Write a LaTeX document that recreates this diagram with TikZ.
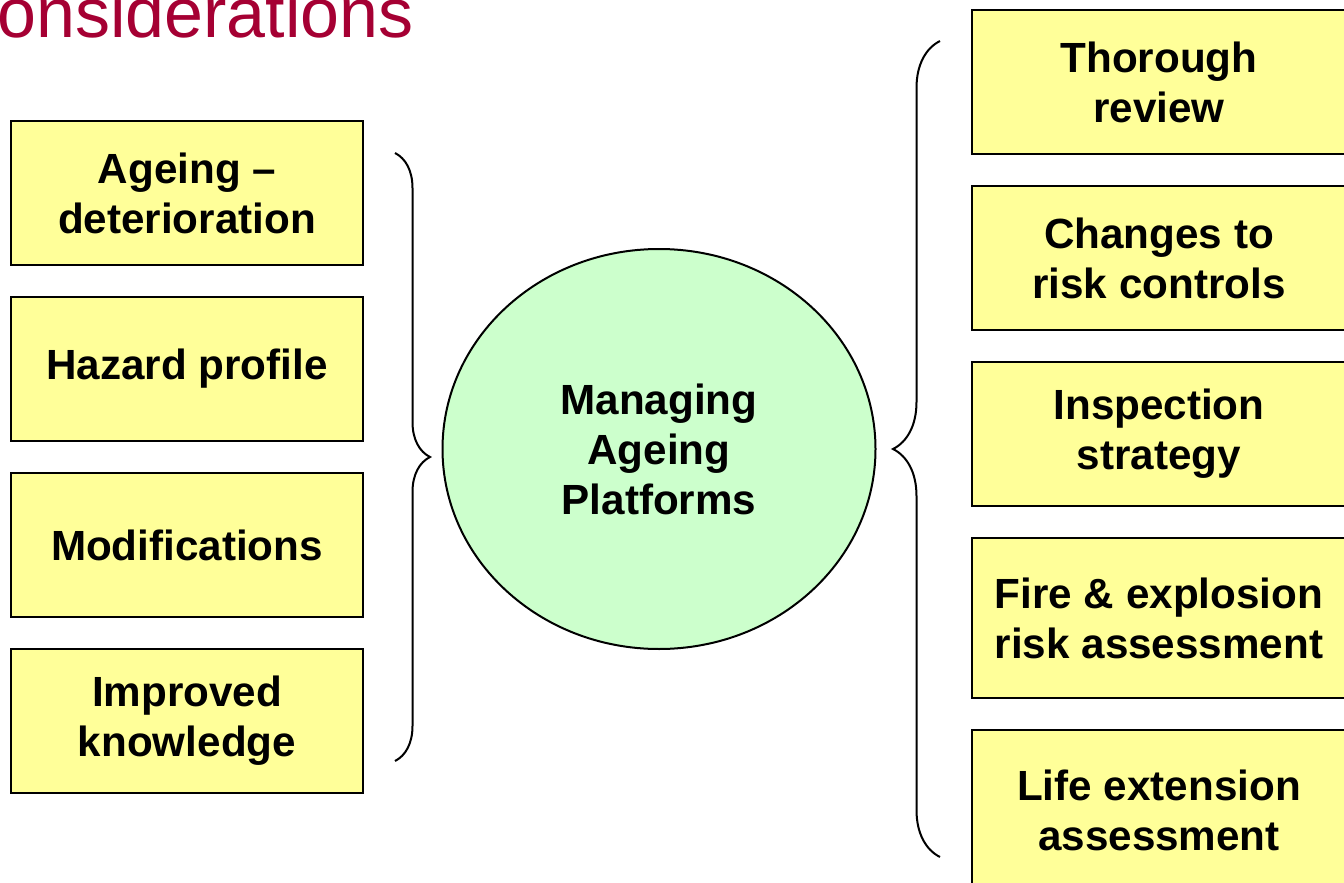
\documentclass[tikz,border=0pt]{standalone}
\usepackage{fontspec}
\setmainfont{Liberation Sans}
\usetikzlibrary{positioning,shapes.geometric,decorations.pathreplacing}
\definecolor{boxyellow}{RGB}{255,255,153}
\definecolor{ovalgreen}{RGB}{204,255,204}
\definecolor{titlered}{RGB}{165,0,51}

\begin{document}
\begin{tikzpicture}[x=0.5pt,y=-0.5pt,node distance=15pt,
	item/.style={draw,line width=1pt,fill=boxyellow,minimum width=176pt,minimum height=72pt,
		align=center,inner sep=0pt,font=\fontsize{21.1}{25}\selectfont\bfseries},
	wide/.style={minimum width=187pt},
	curly/.style={line width=1pt,decorate,decoration={brace,amplitude=#1}}]
	\useasboundingbox (0,0) rectangle (1344,883);
	\clip (0,0) rectangle (1344,883);

	\node(title)[anchor=base west,inner sep=0pt,text=titlered,font=\fontsize{35}{40}\selectfont] at (-3,38) {onsiderations};

	% left column
	\node(ageing)[item] at (187,193){Ageing –\\deterioration};
	\node(hazard)[item,below=of ageing]{Hazard profile};
	\node(mods)[item,below=of hazard]{Modifications};
	\node(knowledge)[item,below=of mods]{Improved\\knowledge};

	\node(hub)[draw,ellipse,line width=1pt,fill=ovalgreen,minimum width=216.5pt,minimum height=200pt,
		align=center,font=\fontsize{21.1}{25}\selectfont\bfseries] at (659,449){Managing\\Ageing\\Platforms};

	% right column
	\node(review)[item,wide,anchor=north west] at (971,9){Thorough\\review};
	\node(controls)[item,wide,below=of review]{Changes to\\risk controls};
	\node(inspection)[item,wide,below=of controls]{Inspection\\strategy};
	\node(fire)[item,wide,minimum height=80pt,below=of inspection]{Fire \& explosion\\risk assessment};
	\node(life)[item,wide,minimum height=80pt,below=of fire]{Life extension\\assessment};

	\coordinate(lbtop) at (395,153);
	\coordinate(lbbot) at (395,761);
	\coordinate(rbtop) at (940,41);
	\coordinate(rbbot) at (940,857);
	\draw[curly=17.5pt] (lbtop) -- (lbbot);
	\draw[curly=23.5pt] (rbbot) -- (rbtop);
\end{tikzpicture}
\end{document}
